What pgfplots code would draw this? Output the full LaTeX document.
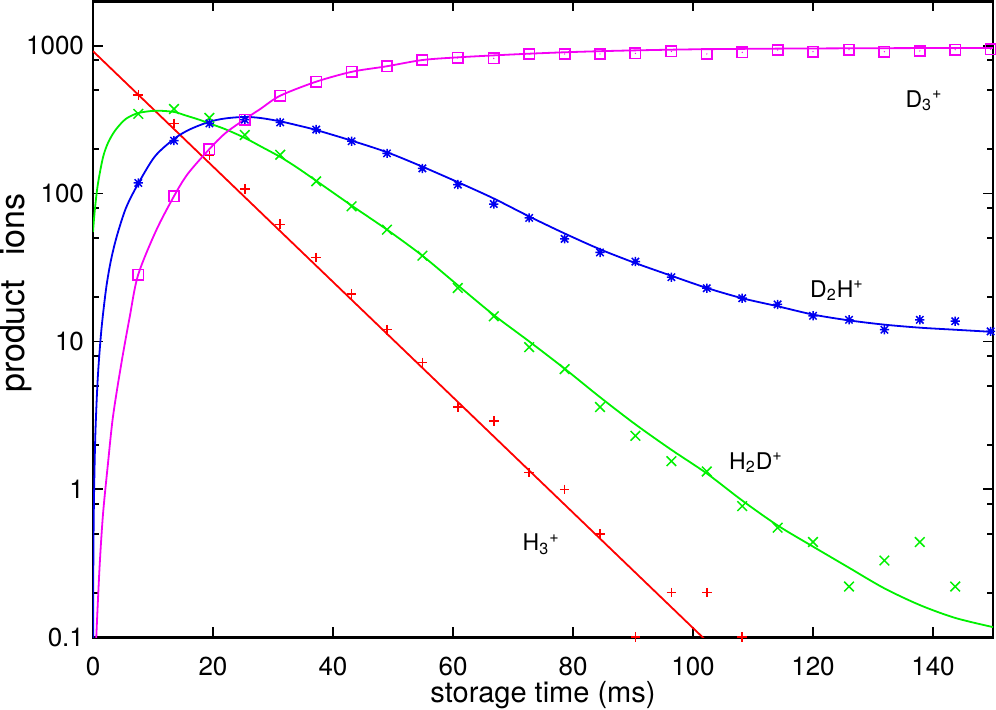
\documentclass[border=0pt]{standalone}
\usepackage{pgfplots}
\pgfplotsset{compat=1.18}
\usepackage{pgfplotstable}
\usepackage{fontspec}
\setmainfont{TeX Gyre Heros}
\definecolor{gpred}{RGB}{255,0,0}
\definecolor{gpgreen}{RGB}{0,240,0}
\definecolor{gpblue}{RGB}{0,0,240}
\definecolor{gpmag}{RGB}{245,0,245}
\pgfdeclareplotmark{gpstar}{%
  \pgfpathmoveto{\pgfqpoint{-\pgfplotmarksize}{0pt}}\pgfpathlineto{\pgfqpoint{\pgfplotmarksize}{0pt}}%
  \pgfpathmoveto{\pgfqpoint{0pt}{-\pgfplotmarksize}}\pgfpathlineto{\pgfqpoint{0pt}{\pgfplotmarksize}}%
  \pgfpathmoveto{\pgfqpoint{-0.8\pgfplotmarksize}{-0.8\pgfplotmarksize}}\pgfpathlineto{\pgfqpoint{0.8\pgfplotmarksize}{0.8\pgfplotmarksize}}%
  \pgfpathmoveto{\pgfqpoint{-0.8\pgfplotmarksize}{0.8\pgfplotmarksize}}\pgfpathlineto{\pgfqpoint{0.8\pgfplotmarksize}{-0.8\pgfplotmarksize}}%
  \pgfusepathqstroke}
\pgfdeclareplotmark{gpsquare}{%
  \pgfpathrectanglecorners{\pgfqpoint{-\pgfplotmarksize}{-\pgfplotmarksize}}{\pgfqpoint{\pgfplotmarksize}{\pgfplotmarksize}}%
  \pgfusepathqstroke
  \pgfpathcircle{\pgfpointorigin}{0.35pt}\pgfusepathqfill}

\pgfplotstableread{
t v
7.55 464
13.5 298
19.4 181
25.3 107
31.2 62
37.2 37
43.1 21
49.0 12
54.9 7.2
60.8 3.6
66.8 2.9
72.7 1.3
78.6 1.0
84.5 0.5
90.4 0.1001
96.4 0.2
102.3 0.2
108.2 0.1001
}\hthree
\pgfplotstableread{
t v
7.55 346
13.5 373
19.4 325
25.3 249
31.2 183
37.2 121
43.1 82
49.0 57
54.9 38
60.8 23
66.8 14.8
72.7 9.15
78.6 6.5
84.5 3.6
90.4 2.3
96.4 1.55
102.3 1.32
108.2 0.77
114.1 0.55
120.0 0.44
126.0 0.22
131.9 0.33
137.8 0.44
143.7 0.22
}\htwod
\pgfplotstableread{
t v
7.55 118
13.5 228
19.4 298
25.3 316
31.2 303
37.2 271
43.1 226
49.0 187
54.9 148
60.8 115
66.8 85
72.7 68.5
78.6 49.4
84.5 40
90.4 34.7
96.4 27.2
102.3 22.9
108.2 19.6
114.1 17.8
120.0 14.9
126.0 14.0
131.9 12.0
137.8 14.0
143.7 13.7
149.6 11.7
}\dtwoh
\pgfplotstableread{
t v
7.55 28.2
13.5 96
19.4 200
25.3 316
31.2 459
37.2 571
43.1 667
49.0 724
54.9 800
60.8 827
66.8 821
72.7 879
78.6 879
84.5 879
90.4 887
96.4 915
102.3 879
108.2 901
114.1 935
120.0 911
126.0 940
131.9 911
137.8 921
143.7 940
149.6 944
}\dthree

\begin{document}
\fontsize{13}{15}\selectfont
\begin{tikzpicture}[font=\fontsize{13}{15}\selectfont]
\begin{axis}[
  name=ax,
  scale only axis,
  width=450pt, height=318pt,
  xmin=0, xmax=150,
  ymode=log, ymin=0.1, ymax=2000,
  xtick={0,20,...,140},
  ytick={0.1,1,10,100,1000},
  yticklabels={0.1,1,10,100,1000},
  minor ytick={0.2,0.5,0.8,2,5,8,20,50,80,200,500,800},
  /pgf/number format/assume math mode=true,
  axis line style={line width=1.4pt},
  tick style={line width=0.9pt,black},
  major tick length=5pt,
  minor tick length=3pt,
  tick align=inside,
  xticklabel style={font=\fontsize{13}{15}\selectfont, inner sep=1pt, yshift=-8.8pt},
  yticklabel style={font=\fontsize{13}{15}\selectfont},
  xlabel={storage time (ms)},
  ylabel={product\hspace{12pt}ions},
  xlabel style={font=\fontsize{14.5}{17}\selectfont, inner sep=1pt, at={(axis description cs:0.5,-0.091)},anchor=center},
  ylabel style={font=\fontsize{17}{19}\selectfont, at={(axis description cs:-0.0856,0.541)},anchor=center},
  every axis plot/.append style={line width=0.9pt},
]
% fitted curves
\addplot[gpred, no marks] coordinates {(0,918) (110,0.047)};
\addplot[gpgreen, no marks, smooth, tension=0.5] coordinates {
(0,55) (0.3,77) (0.8,115) (1.67,176) (2.5,220) (3.6,264) (5.0,308) (6.0,330) (7.5,350)
(9.5,361) (11.3,363) (13.6,356) (15.5,337) (17.8,315) (19.4,298) (22,273) (25.3,238)
(28,208) (31.2,177) (34,150) (37.2,122) (43.1,83) (49.0,57) (54.9,38) (60.9,23.8)
(66.7,15.2) (72.7,10.0) (78.7,6.5) (84.5,4.2) (90.4,2.75) (96.4,1.85) (102.3,1.28)
(108.2,0.84) (114.1,0.57) (120,0.41) (126,0.295) (131.8,0.215) (137.8,0.165) (143.7,0.135) (150,0.117)};
\addplot[gpblue, no marks, smooth, tension=0.5] coordinates {
(0.01,0.05) (0.02,0.1) (0.05,0.26) (0.1,0.52) (0.2,1.05) (0.4,2.4) (0.8,5.7) (1.4,12)
(2.2,23) (3.0,35.5) (4.0,52) (5.5,80) (7.5,116) (10.3,178) (13.5,234) (16,270) (19.3,305)
(22,322) (25.3,330) (28,324) (31.2,308) (34,290) (37.2,269) (43.1,228) (49.05,190)
(54.9,152) (60.9,119) (66.7,93) (72.7,70) (78.7,53.5) (84.5,42) (90.3,34) (96.4,27.8)
(102.3,23.0) (108.2,19.6) (114.1,17.3) (120,15.2) (125.9,13.9) (131.8,13.0) (137.7,12.4)
(143.7,12.0) (150,11.6)};
\addplot[gpmag, no marks, smooth, tension=0.5] coordinates {
(0.4,0.06) (0.55,0.1) (1.1,0.3) (1.67,0.68) (2.5,1.5) (3.33,3.1) (4.7,7) (6.1,14.5) (7.5,28)
(10.5,56) (13.5,96) (15.8,136) (19.4,200) (22,255) (25.2,316) (28,376) (31.2,459)
(37.2,571) (43.2,667) (48.8,724) (54.9,800) (60.8,834) (66.8,860) (72.7,883) (78.7,903)
(84.5,918) (90.4,930) (100,945) (110,953) (120,958) (135,963) (150,966)};
% data points
\addplot[gpred, only marks, mark=+, mark size=2.4pt, mark options={line width=0.75pt}] table[x=t,y=v] {\hthree};
\addplot[gpgreen, only marks, mark=x, mark size=3.4pt, mark options={line width=0.75pt}] table[x=t,y=v] {\htwod};
\addplot[gpblue, only marks, mark=gpstar, mark size=2.3pt, mark options={line width=0.75pt}] table[x=t,y=v] {\dtwoh};
\addplot[gpmag, only marks, mark=gpsquare, mark size=2.6pt, mark options={line width=0.75pt}] table[x=t,y=v] {\dthree};
% labels
\node[font=\fontsize{11.5}{13}\selectfont] at (axis cs:138.5,425) {D\textsubscript{3}\textsuperscript{+}};
\node[font=\fontsize{11.5}{13}\selectfont] at (axis cs:124,22.1) {D\textsubscript{2}H\textsuperscript{+}};
\node[font=\fontsize{11.5}{13}\selectfont] at (axis cs:110.5,1.52) {H\textsubscript{2}D\textsuperscript{+}};
\node[font=\fontsize{11.5}{13}\selectfont] at (axis cs:74.7,0.425) {H\textsubscript{3}\textsuperscript{+}};
\end{axis}
\pgfresetboundingbox
\path[use as bounding box] ([xshift=-46.5pt,yshift=-36pt]ax.south west) rectangle ([xshift=1.5pt,yshift=0.6pt]ax.north east);
\end{tikzpicture}
\end{document}
